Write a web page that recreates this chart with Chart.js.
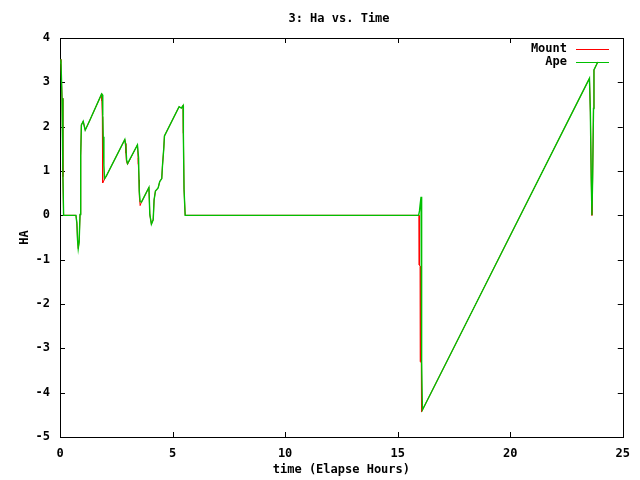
<!DOCTYPE html>
<html>
<head>
<meta charset="utf-8">
<title>3: Ha vs. Time</title>
<script src="https://cdn.jsdelivr.net/npm/chart.js@4.4.0/dist/chart.umd.min.js"></script>
<style>
  html, body { margin: 0; padding: 0; background: #fff; }
  #wrap { width: 640px; height: 480px; }
</style>
</head>
<body>
<div id="wrap"><canvas id="haChart" width="640" height="480"></canvas></div>
<script>
// elapsed hours / hour angle
const apeTime = [0, 0.04, 0.09, 0.13, 0.16, 0.71, 0.75, 0.78, 0.81, 0.85, 0.89, 0.92, 0.95, 1.03, 1.12, 1.33,
  1.85, 1.88, 1.90, 1.92, 1.95, 1.98, 2.05, 2.88, 2.92, 2.96, 3.00, 3.44, 3.49, 3.52, 3.56, 3.62, 3.95,
  3.99, 4.06, 4.14, 4.18, 4.24, 4.36, 4.43, 4.52, 4.55, 4.61, 4.64, 5.29, 5.39, 5.47, 5.48, 5.51, 5.56,
  15.93, 15.97, 16.00, 16.04, 16.05, 16.08, 16.10, 19.60, 23.52, 23.56, 23.60, 23.63, 23.66, 23.70, 23.72, 23.89];
const apeHa = [3.44, 3.52, 2.64, 0.87, 0, 0, -0.18, -0.56, -0.75, -0.60, 0.02, 1.34, 2.04, 2.12, 1.92, 2.15,
  2.74, 2.72, 2.26, 1.77, 1.13, 0.83, 0.88, 1.71, 1.59, 1.25, 1.17, 1.59, 1.30, 0.55, 0.31, 0.30, 0.63,
  0.02, -0.20, -0.10, 0.35, 0.55, 0.62, 0.76, 0.83, 1.10, 1.51, 1.79, 2.45, 2.42, 2.48, 1.85, 0.59, 0,
  0, 0.10, 0.25, 0.42, -1.99, -3.30, -4.39, -0.86, 3.09, 2.33, 0.80, 0, 0.80, 2.41, 3.28, 3.46];

const mountTime = [0, 0.04, 0.09, 0.13, 0.16, 0.71, 0.75, 0.78, 0.81, 0.85, 0.89, 0.92, 0.95, 1.03, 1.12, 1.33,
  1.85, 1.86, 1.88, 1.89, 1.90, 2.05, 2.88, 2.90, 2.93, 2.95, 3.00, 3.44, 3.47, 3.48, 3.51, 3.52, 3.54, 3.56, 3.62, 3.95,
  3.99, 4.06, 4.14, 4.18, 4.24, 4.36, 4.43, 4.52, 4.55, 4.61, 4.64, 5.29, 5.39, 5.47, 5.48, 5.51, 5.56,
  15.95, 15.96, 16.00, 16.01, 16.05, 16.06, 16.10, 19.60, 23.52, 23.56, 23.60, 23.63, 23.66, 23.70, 23.72, 23.89];
const mountHa = [3.44, 3.52, 2.64, 0.87, 0, 0, -0.18, -0.56, -0.75, -0.60, 0.02, 1.34, 2.04, 2.12, 1.92, 2.15,
  2.74, 2.58, 2.22, 1.25, 0.73, 0.88, 1.71, 1.62, 1.40, 1.22, 1.15, 1.59, 1.30, 1.15, 0.80, 0.55, 0.40, 0.22, 0.30, 0.63,
  0.02, -0.20, -0.10, 0.35, 0.55, 0.62, 0.76, 0.83, 1.10, 1.51, 1.79, 2.45, 2.42, 2.48, 1.85, 0.59, 0,
  0, -1.12, -1.15, -3.30, -3.33, -4.43, -4.39, -0.86, 3.09, 2.33, 0.80, 0, 0.80, 2.41, 3.28, 3.46];

const xTicks = [0, 5, 10, 15, 20, 25];
const yTicks = [-5, -4, -3, -2, -1, 0, 1, 2, 3, 4];

const FONT = "'DejaVu Sans Mono', 'Liberation Mono', monospace";
Chart.defaults.font.family = FONT;
Chart.defaults.font.size = 12;
Chart.defaults.font.weight = 'bold';
Chart.defaults.color = '#000';

const toPoints = (xs, ys) => xs.map((t, i) => ({ x: t, y: ys[i] }));

// gnuplot-ish frame: border, inward ticks on all four sides, title, key
const gnuFrame = {
  id: 'gnuFrame',
  beforeDatasetsDraw(chart) {
    const { ctx, chartArea: a, scales } = chart;
    ctx.save();
    ctx.strokeStyle = '#000';
    ctx.lineWidth = 1;
    ctx.strokeRect(Math.round(a.left) + 0.5, Math.round(a.top) + 0.5,
      Math.round(a.right - a.left), Math.round(a.bottom - a.top));
    ctx.beginPath();
    xTicks.forEach(v => {
      const px = Math.round(scales.x.getPixelForValue(v)) + 0.5;
      ctx.moveTo(px, a.bottom); ctx.lineTo(px, a.bottom - 5);
      ctx.moveTo(px, a.top); ctx.lineTo(px, a.top + 5);
    });
    yTicks.forEach(v => {
      const py = Math.round(scales.y.getPixelForValue(v)) + 0.5;
      ctx.moveTo(a.left, py); ctx.lineTo(a.left + 5, py);
      ctx.moveTo(a.right, py); ctx.lineTo(a.right - 5, py);
    });
    ctx.stroke();
    ctx.restore();
  },
  afterDraw(chart) {
    const { ctx } = chart;
    ctx.save();
    ctx.fillStyle = '#000';
    ctx.font = 'bold 12px ' + FONT;
    ctx.textBaseline = 'middle';
    ctx.textAlign = 'center';
    ctx.fillText('3: Ha vs. Time', 339, 19);
    // key
    const keyY = [49, 62];
    chart.data.datasets.forEach((ds, i) => {
      ctx.textAlign = 'right';
      ctx.fillStyle = '#000';
      ctx.fillText(ds.label, 567, keyY[i]);
      ctx.fillStyle = ds.borderColor;
      ctx.fillRect(576, keyY[i], 33, 1);
    });
    ctx.restore();
  }
};

new Chart(document.getElementById('haChart'), {
  type: 'scatter',
  data: {
    datasets: [
      {
        label: 'Mount',
        data: toPoints(mountTime, mountHa),
        showLine: true,
        borderColor: '#ff0000',
        borderWidth: 1,
        pointRadius: 0,
        tension: 0,
        order: 1
      },
      {
        label: 'Ape',
        data: toPoints(apeTime, apeHa),
        showLine: true,
        borderColor: '#00c000',
        borderWidth: 1.4,
        pointRadius: 0,
        tension: 0,
        order: 0
      }
    ]
  },
  plugins: [gnuFrame],
  options: {
    responsive: false,
    animation: false,
    layout: { padding: { top: 38, right: 16, left: 0, bottom: 0 } },
    plugins: {
      legend: { display: false },
      tooltip: { enabled: false },
      title: { display: false }
    },
    scales: {
      x: {
        type: 'linear',
        min: 0,
        max: 25,
        afterFit: s => { s.height = 43; },
        afterBuildTicks: s => { s.ticks = xTicks.map(v => ({ value: v })); },
        grid: { display: false, drawTicks: false },
        border: { display: false },
        ticks: { padding: 10, maxRotation: 0 },
        title: { display: true, text: 'time (Elapse Hours)', padding: { top: 0, bottom: 3 } }
      },
      y: {
        type: 'linear',
        min: -5,
        max: 4,
        afterFit: s => { s.width = 60; },
        afterBuildTicks: s => { s.ticks = yTicks.map(v => ({ value: v })); },
        grid: { display: false, drawTicks: false },
        border: { display: false },
        ticks: { padding: 10 },
        title: { display: true, text: 'HA', padding: { top: 18, bottom: 0 } }
      }
    }
  }
});
</script>
</body>
</html>
